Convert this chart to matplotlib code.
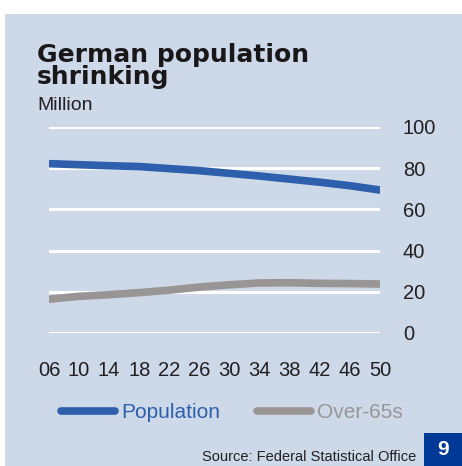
import matplotlib
matplotlib.use("Agg")
import matplotlib.pyplot as plt
from matplotlib.patches import Rectangle

# Projection years and series (million people)
years = [2006, 2010, 2014, 2018, 2022, 2026, 2030, 2034, 2038, 2042, 2046, 2050]
population = [82.2, 81.7, 81.2, 80.8, 79.8, 78.8, 77.5, 76.2, 74.7, 73.2, 71.5, 69.4]
over_65 = [16.4, 17.8, 18.6, 19.6, 20.8, 22.3, 23.4, 24.3, 24.4, 24.1, 24.0, 23.8]
x_labels = ["06", "10", "14", "18", "22", "26", "30", "34", "38", "42", "46", "50"]
y_ticks = [0, 20, 40, 60, 80, 100]

BG = "#cdd8e9"
BLUE = "#2e5fac"
GREY = "#999594"
TEXT = "#231f20"
DARK = "#003a96"

plt.rcParams["font.family"] = ["Liberation Sans", "DejaVu Sans"]

W, H = 462, 466
fig = plt.figure(figsize=(W / 100, H / 100), dpi=100)
fig.patch.set_facecolor("white")

# Panel background
fig.patches.append(Rectangle((5 / W, 0), 1 - 5 / W, (H - 14) / H,
                             transform=fig.transFigure, facecolor=BG,
                             edgecolor="none", zorder=-5))

ax = fig.add_axes([49 / W, (H - 333) / H, (380 - 49) / W, (333 - 127) / H])
ax.set_zorder(2)
ax.set_facecolor("none")
for s in ax.spines.values():
    s.set_visible(False)

ax.set_xlim(2006, 2050)
ax.set_ylim(0, 100)
ax.set_yticks(y_ticks)
ax.yaxis.tick_right()
ax.tick_params(axis="y", length=0, pad=16.5, labelsize=14.5, labelcolor=TEXT)
ax.set_xticks(years)
ax.set_xticklabels(x_labels)
ax.tick_params(axis="x", length=0, pad=20, labelsize=14.5, labelcolor=TEXT)
ax.grid(axis="y", color="white", linewidth=2.2)
ax.grid(axis="x", visible=False)
ax.set_axisbelow(True)

ax.plot(years, population, color=BLUE, linewidth=5.5, solid_capstyle="round",
        label="Population", zorder=3)
ax.plot(years, over_65, color=GREY, linewidth=5.5, solid_capstyle="round",
        label="Over-65s", zorder=3)

leg = fig.legend(loc="center left", bbox_to_anchor=(61 / W, (H - 413) / H),
                 ncol=2, frameon=False, fontsize=15, handlelength=2.6,
                 handletextpad=0.3, columnspacing=1.75, borderpad=0,
                 borderaxespad=0)
for txt, col in zip(leg.get_texts(), [BLUE, GREY]):
    txt.set_color(col)

# Title block
fig.text(37 / W, (H - 62) / H, "German population", fontsize=18,
         family="DejaVu Sans", fontweight="heavy", color="#1a1718",
         ha="left", va="baseline")
fig.text(37 / W, (H - 84) / H, "shrinking", fontsize=18,
         family="DejaVu Sans", fontweight="heavy", color="#1a1718",
         ha="left", va="baseline")
fig.text(37 / W, (H - 110) / H, "Million", fontsize=14, color=TEXT,
         ha="left", va="baseline")

# Footer
fig.text(416 / W, (H - 461) / H, "Source: Federal Statistical Office",
         fontsize=10.5, color=TEXT, ha="right", va="baseline")
fig.patches.append(Rectangle((424 / W, 0), (W - 424) / W, 33 / H,
                             transform=fig.transFigure, facecolor=DARK,
                             edgecolor="none", zorder=1))
fig.text(443 / W, 16.5 / H, "9", fontsize=15, fontweight="bold",
         color="white", ha="center", va="center")

fig.savefig("out.png", dpi=100, facecolor=fig.get_facecolor())
